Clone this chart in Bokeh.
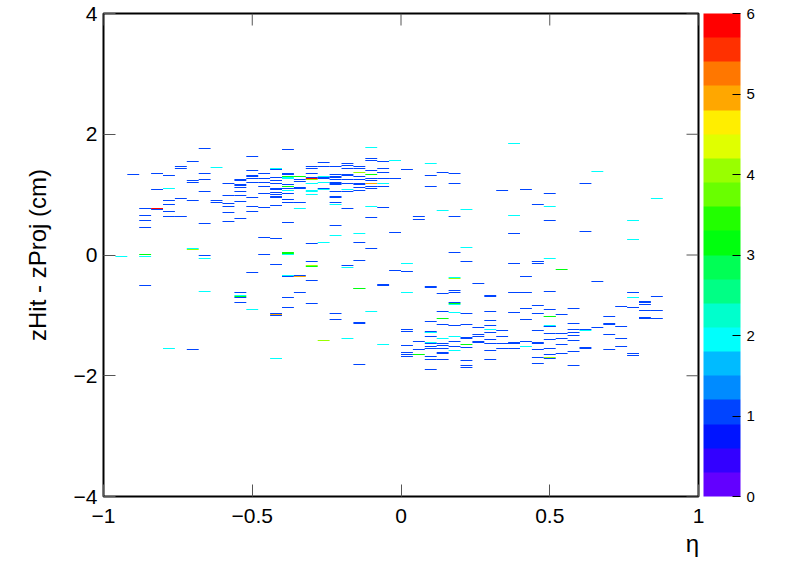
import colorsys
import numpy as np
from bokeh.plotting import figure
from bokeh.models import (ColumnDataSource, LinearColorMapper, ColorBar, FixedTicker, Range1d)
from bokeh.embed import file_html
from bokeh.resources import INLINE

# ---------------- data ----------------
eta_bin_width = 0.04

x_ticks = [-1, -0.5, 0, 0.5, 1]
x_tick_labels = ["\u22121", "\u22120.5", "0", "0.5", "1"]
y_ticks = [-4, -2, 0, 2, 4]
y_tick_labels = ["\u22124", "\u22122", "0", "2", "4"]
cbar_ticks = [0, 1, 2, 3, 4, 5, 6]
cbar_low, cbar_high = 0, 6

cell_eta = [
    -0.94,
    -0.90,
    -0.86, -0.86, -0.86, -0.86, -0.86, -0.86, -0.86,
    -0.82, -0.82, -0.82, -0.82,
    -0.78, -0.78, -0.78, -0.78, -0.78, -0.78, -0.78,
    -0.74, -0.74, -0.74, -0.74,
    -0.70, -0.70, -0.70, -0.70, -0.70, -0.70, -0.70,
    -0.66, -0.66, -0.66, -0.66, -0.66, -0.66, -0.66, -0.66,
    -0.62, -0.62, -0.62,
    -0.58, -0.58, -0.58, -0.58, -0.58, -0.58,
    -0.54, -0.54, -0.54, -0.54, -0.54, -0.54, -0.54, -0.54, -0.54, -0.54, -0.54, -0.54, -0.54, -0.54,
    -0.50, -0.50, -0.50, -0.50, -0.50, -0.50, -0.50, -0.50, -0.50, -0.50, -0.50,
    -0.46, -0.46, -0.46, -0.46, -0.46, -0.46, -0.46, -0.46,
    -0.42, -0.42, -0.42, -0.42, -0.42, -0.42, -0.42, -0.42, -0.42, -0.42, -0.42, -0.42, -0.42, -0.42, -0.42, -0.42, -0.42, -0.42,
    -0.38, -0.38, -0.38, -0.38, -0.38, -0.38, -0.38, -0.38, -0.38, -0.38, -0.38, -0.38, -0.38, -0.38, -0.38, -0.38, -0.38, -0.38, -0.38, -0.38, -0.38,
    -0.34, -0.34, -0.34, -0.34, -0.34, -0.34, -0.34, -0.34, -0.34, -0.34,
    -0.30, -0.30, -0.30, -0.30, -0.30, -0.30, -0.30, -0.30, -0.30, -0.30, -0.30, -0.30, -0.30, -0.30, -0.30, -0.30, -0.30,
    -0.26, -0.26, -0.26, -0.26, -0.26, -0.26, -0.26, -0.26, -0.26, -0.26,
    -0.22, -0.22, -0.22, -0.22, -0.22, -0.22, -0.22, -0.22, -0.22, -0.22, -0.22, -0.22, -0.22, -0.22, -0.22, -0.22, -0.22,
    -0.18, -0.18, -0.18, -0.18, -0.18, -0.18, -0.18, -0.18, -0.18, -0.18, -0.18, -0.18, -0.18,
    -0.14, -0.14, -0.14, -0.14, -0.14, -0.14, -0.14, -0.14, -0.14, -0.14, -0.14, -0.14, -0.14, -0.14, -0.14, -0.14, -0.14,
    -0.10, -0.10, -0.10, -0.10, -0.10, -0.10, -0.10, -0.10, -0.10, -0.10, -0.10, -0.10, -0.10, -0.10,
    -0.06, -0.06, -0.06, -0.06, -0.06, -0.06, -0.06, -0.06, -0.06, -0.06, -0.06,
    -0.02, -0.02, -0.02, -0.02,
    0.02, 0.02, 0.02, 0.02, 0.02, 0.02, 0.02, 0.02, 0.02, 0.02,
    0.06, 0.06, 0.06, 0.06, 0.06,
    0.10, 0.10, 0.10, 0.10, 0.10, 0.10, 0.10, 0.10, 0.10, 0.10, 0.10, 0.10, 0.10, 0.10, 0.10, 0.10, 0.10, 0.10,
    0.14, 0.14, 0.14, 0.14, 0.14, 0.14, 0.14, 0.14, 0.14, 0.14, 0.14, 0.14, 0.14,
    0.18, 0.18, 0.18, 0.18, 0.18, 0.18, 0.18, 0.18, 0.18, 0.18, 0.18, 0.18, 0.18, 0.18, 0.18, 0.18, 0.18, 0.18,
    0.22, 0.22, 0.22, 0.22, 0.22, 0.22, 0.22, 0.22, 0.22, 0.22, 0.22, 0.22,
    0.26, 0.26, 0.26, 0.26, 0.26, 0.26,
    0.30, 0.30, 0.30, 0.30, 0.30, 0.30, 0.30, 0.30, 0.30, 0.30, 0.30,
    0.34, 0.34, 0.34, 0.34, 0.34,
    0.38, 0.38, 0.38, 0.38, 0.38, 0.38, 0.38, 0.38, 0.38, 0.38,
    0.42, 0.42, 0.42, 0.42, 0.42, 0.42, 0.42,
    0.46, 0.46, 0.46, 0.46, 0.46, 0.46, 0.46, 0.46, 0.46, 0.46, 0.46, 0.46,
    0.50, 0.50, 0.50, 0.50, 0.50, 0.50, 0.50, 0.50, 0.50, 0.50, 0.50, 0.50, 0.50, 0.50, 0.50, 0.50, 0.50,
    0.54, 0.54, 0.54, 0.54, 0.54, 0.54,
    0.58, 0.58, 0.58, 0.58, 0.58, 0.58, 0.58, 0.58,
    0.62, 0.62, 0.62, 0.62, 0.62, 0.62,
    0.66, 0.66, 0.66,
    0.70, 0.70, 0.70, 0.70, 0.70,
    0.74, 0.74, 0.74, 0.74,
    0.78, 0.78, 0.78, 0.78, 0.78, 0.78, 0.78,
    0.82, 0.82, 0.82, 0.82, 0.82, 0.82,
    0.86, 0.86, 0.86, 0.86,
]

cell_z = [
    -0.04,
    1.33,
    0.765, 0.649, 0.566, 0.45, -0.005, -0.025, -0.51,
    1.345, 1.08, 0.765, 0.75,
    1.311, 1.096, 0.897, 0.83, 0.715, 0.632, -1.554,
    1.45, 1.43, 0.93, 0.632,
    1.543, 1.22, 1.20, 0.897, 0.097, 0.08, -1.57,
    1.758, 1.345, 1.245, 1.046, 0.516, -0.014, -0.063, -0.61,
    1.444, 0.897, 0.864,
    1.179, 0.98, 0.85, 0.80, 0.70, 0.55,
    1.24, 1.22, 1.16, 1.14, 1.113, 1.05, 0.985, 0.88, 0.60, -0.627, -0.676, -0.693, -0.71, -0.792,
    1.626, 1.394, 1.306, 1.29, 1.256, 1.20, 0.947, 0.80, 0.715, -0.295, -0.908,
    1.345, 1.256, 1.20, 1.13, 1.01, 0.78, 0.284, 0.008,
    1.427, 1.41, 1.278, 1.228, 1.179, 1.10, 1.08, 1.035, 0.996, 0.96, 0.95, 0.815, 0.268, -0.16, -0.974, -0.991, -1.008, -1.72,
    1.742, 1.345, 1.33, 1.295, 1.27, 1.26, 1.162, 1.13, 1.096, 1.063, 1.013, 0.914, 0.864, 0.533, 0.03, 0.02, 0.0, -0.345, -0.36, -0.709, -0.875,
    1.295, 1.245, 1.21, 1.11, 1.10, 0.864, 0.765, -0.345, -0.36, -0.626,
    1.46, 1.427, 1.345, 1.278, 1.261, 1.245, 1.18, 1.17, 1.06, 1.05, 0.996, 0.185, -0.113, -0.18, -0.197, -0.428, -0.809,
    1.527, 1.46, 1.295, 1.27, 1.255, 1.195, 1.096, 1.07, 0.20, -1.42,
    1.46, 1.328, 1.29, 1.27, 1.25, 1.20, 1.18, 1.16, 1.046, 0.96, 0.95, 0.864, 0.83, 0.483, 0.317, -0.974, -1.074,
    1.51, 1.477, 1.427, 1.33, 1.31, 1.245, 1.18, 1.08, 1.046, 0.765, -0.18, -0.212, -1.388,
    1.46, 1.427, 1.361, 1.295, 1.245, 1.18, 1.16, 1.11, 1.063, 0.35, 0.20, -0.097, -0.56, -0.57, -1.13, -1.14, -1.82,
    1.775, 1.593, 1.56, 1.394, 1.328, 1.261, 1.228, 1.18, 1.12, 1.10, 0.798, 0.616, 0.102, -0.941,
    1.543, 1.427, 1.36, 1.35, 1.261, 1.18, 1.13, 0.78, -0.49, -0.51, -1.488,
    1.56, 1.261, 0.367, -0.262,
    1.41, -0.146, -0.279, -0.627, -1.24, -1.273, -1.505, -1.62, -1.654, -1.687,
    0.632, 0.583, -1.438, -1.571, -1.654,
    1.51, 1.311, 1.13, -0.53, -0.54, -1.107, -1.273, -1.29, -1.30, -1.356, -1.455, -1.472, -1.53, -1.55, -1.56, -1.687, -1.737, -1.902,
    1.361, 0.732, -0.643, -0.942, -1.058, -1.157, -1.389, -1.472, -1.505, -1.555, -1.63, -1.645, -1.737,
    1.345, 1.179, 0.632, 0.036, -0.378, -0.40, -0.594, -0.627, -0.793, -0.81, -0.826, -0.958, -1.17, -1.18, -1.356, -1.44, -1.52, -1.588,
    0.748, 0.119, -0.113, -0.975, -1.157, -1.38, -1.395, -1.488, -1.544, -1.753, -1.836, -1.869,
    -0.478, -1.207, -1.33, -1.35, -1.44, -1.45,
    -0.68, -0.70, -0.942, -1.09, -1.174, -1.24, -1.29, -1.405, -1.472, -1.588, -1.737,
    1.063, -1.256, -1.356, -1.472, -1.555,
    1.841, 0.649, 0.35, -0.146, -0.627, -0.958, -1.46, -1.47, -1.48, -1.555,
    1.08, -0.362, -0.627, -0.892, -1.074, -1.438, -1.521,
    0.83, -0.11, -0.12, -0.146, -0.842, -0.975, -1.256, -1.46, -1.48, -1.571, -1.703, -1.803,
    1.013, 0.798, 0.566, -0.064, -0.61, -0.908, -1.02, -1.03, -1.173, -1.19, -1.20, -1.306, -1.405, -1.555, -1.654, -1.703, -1.73,
    -0.246, -0.99, -1.306, -1.389, -1.488, -1.637,
    -0.892, -1.14, -1.24, -1.29, -1.339, -1.422, -1.604, -1.836,
    1.168, 0.384, -1.24, -1.256, -1.545, -1.555,
    1.378, -0.444, -1.206,
    -1.024, -1.15, -1.16, -1.322, -1.571,
    -0.858, -1.19, -1.389, -1.521,
    0.566, 0.252, -0.626, -0.709, -0.875, -1.637, -1.67,
    -0.78, -0.80, -0.825, -0.925, -1.05, -1.065,
    0.93, -0.693, -0.925, -1.057,
]

cell_count = [
    2,
    1,
    1, 1, 1, 1, 3, 2, 1,
    1, 1, 6, 1,
    1, 2, 1, 1, 1, 1, 2,
    1, 1, 1, 1,
    1, 1, 1, 1, 2, 4, 1,
    1, 1, 1, 1, 1, 1, 2, 2,
    2, 1, 1,
    1, 1, 1, 1, 1, 1,
    1, 1, 1, 1, 1, 1, 1, 1, 1, 1, 2, 3, 1, 1,
    1, 1, 1, 1, 1, 1, 1, 1, 1, 1, 2,
    1, 1, 1, 1, 1, 1, 1, 1,
    2, 1, 1, 1, 1, 1, 1, 1, 1, 1, 1, 1, 1, 1, 1, 5, 1, 2,
    1, 1, 1, 3, 2, 2, 1, 3, 1, 2, 1, 1, 1, 1, 3, 3, 2, 2, 1, 1, 1,
    3, 1, 1, 1, 1, 1, 2, 1, 5, 1,
    1, 1, 1, 1, 6, 4, 2, 2, 2, 2, 2, 1, 1, 4, 3, 1, 1,
    1, 1, 2, 1, 1, 2, 1, 2, 2, 4,
    1, 1, 1, 1, 1, 1, 1, 1, 1, 1, 1, 1, 2, 1, 2, 1, 1,
    1, 1, 1, 1, 1, 1, 1, 2, 1, 1, 1, 2, 2,
    1, 1, 4, 1, 1, 1, 1, 1, 1, 2, 1, 1, 3, 3, 1, 1, 1,
    2, 1, 1, 1, 3, 1, 1, 5, 1, 1, 2, 1, 1, 2,
    1, 1, 1, 1, 1, 2, 1, 1, 1, 1, 2,
    2, 1, 1, 1,
    1, 2, 1, 2, 1, 1, 1, 1, 1, 1,
    1, 1, 1, 1, 3,
    2, 1, 1, 1, 1, 1, 1, 2, 2, 1, 2, 1, 1, 1, 1, 1, 1, 1,
    1, 2, 1, 1, 3, 1, 2, 1, 1, 1, 1, 1, 1,
    1, 1, 1, 1, 2, 4, 1, 1, 1, 3, 2, 2, 1, 1, 2, 1, 1, 2,
    2, 2, 1, 1, 1, 1, 1, 3, 1, 1, 1, 1,
    1, 1, 1, 1, 1, 1,
    1, 1, 1, 1, 1, 2, 1, 1, 1, 1, 1,
    1, 1, 1, 1, 1,
    2, 2, 1, 1, 1, 1, 1, 1, 1, 1,
    1, 1, 1, 1, 1, 1, 2,
    1, 1, 1, 1, 1, 1, 1, 1, 1, 1, 1, 1,
    1, 2, 1, 2, 1, 1, 3, 3, 2, 1, 1, 1, 1, 1, 1, 4, 1,
    3, 1, 1, 1, 1, 1,
    1, 1, 1, 1, 1, 1, 1, 1,
    1, 1, 1, 2, 1, 1,
    2, 1, 1,
    1, 1, 1, 1, 1,
    1, 1, 1, 1,
    2, 2, 1, 2, 1, 1, 1,
    1, 1, 1, 1, 1, 1,
    2, 1, 1, 1,
]

# ---------------- palette (ROOT "pretty" spectrum, 20 contours) ----------------
def root_palette(ncont=20, ncolors=50):
    cols = []
    for k in range(ncont):
        j = int((k + 0.99) * ncolors / ncont)
        if j >= ncolors - 1:
            cols.append("#ff0000")
            continue
        hue = 280.0 - (j + 1) * (280.0 / ncolors)
        r, g, b = colorsys.hls_to_rgb(hue / 360.0, 0.5, 1.0)
        cols.append("#%02x%02x%02x" % (int(round(r * 255)), int(round(g * 255)), int(round(b * 255))))
    return cols

palette = root_palette()

FONT = "Liberation Sans"
W, H = 788, 565
BL, BR, BT, BB = 103, 90, 13, 69
frame_w, frame_h = W - BL - BR, H - BT - BB

x0, x1 = x_ticks[0], x_ticks[-1]
y0, y1 = y_ticks[0], y_ticks[-1]

# y binning: one bin per screen pixel row of the frame (histogram resolution),
# bins centred on pixel rows so that each cell is drawn crisply
z_bin_height = (y1 - y0) / frame_h

n = min(len(cell_eta), len(cell_z), len(cell_count))
eta_arr = np.array(cell_eta[:n], dtype=float)
z_arr = np.array(cell_z[:n], dtype=float)
cnt_arr = np.array(cell_count[:n], dtype=float)
iy = np.floor((z_arr - y0) / z_bin_height)
z_lo = y0 + (iy + 0.5) * z_bin_height

src = ColumnDataSource(dict(
    left=eta_arr - eta_bin_width / 2, right=eta_arr + eta_bin_width / 2,
    bottom=z_lo, top=z_lo + z_bin_height,
    count=cnt_arr,
))

mapper = LinearColorMapper(palette=palette, low=cbar_low, high=cbar_high)

p = figure(width=W, height=H, x_range=Range1d(x0, x1), y_range=Range1d(y0, y1),
           output_backend="svg", toolbar_location=None,
           min_border_left=BL, min_border_right=BR, min_border_top=BT, min_border_bottom=BB)
p.xgrid.visible = False
p.ygrid.visible = False
p.background_fill_color = "white"
p.border_fill_color = "white"
p.outline_line_color = "black"
p.outline_line_width = 2

p.quad(left="left", right="right", bottom="bottom", top="top", source=src,
       fill_color={"field": "count", "transform": mapper}, line_color=None)

MAJ = 12

for ax in (p.xaxis[0], p.yaxis[0]):
    ax.axis_line_color = None
    ax.major_tick_in = MAJ
    ax.major_tick_out = 0
    ax.minor_tick_line_color = None
    ax.major_tick_line_color = "#555555"
    ax.major_label_text_font = FONT
    ax.major_label_text_font_size = "21px"
    ax.major_label_text_color = "black"

p.xaxis.ticker = FixedTicker(ticks=x_ticks)
p.yaxis.ticker = FixedTicker(ticks=y_ticks)
p.xaxis.major_label_overrides = {t: l for t, l in zip(x_ticks, x_tick_labels)}
p.yaxis.major_label_overrides = {t: l for t, l in zip(y_ticks, y_tick_labels)}
p.xaxis.major_label_standoff = 12
p.yaxis.major_label_standoff = 6

p.yaxis.axis_label = "zHit - zProj (cm)"
p.yaxis.axis_label_text_font = FONT
p.yaxis.axis_label_text_font_size = "24px"
p.yaxis.axis_label_text_font_style = "normal"
p.yaxis.axis_label_text_color = "black"
p.yaxis.axis_label_standoff = 20

xax = p.xaxis[0]
xax.axis_label = "\u03b7\u2002"
xax.axis_label_align = "end"
xax.axis_label_text_font = FONT
xax.axis_label_text_font_size = "24px"
xax.axis_label_text_font_style = "normal"
xax.axis_label_text_color = "black"
xax.axis_label_standoff = 4

# ticks on the opposite (top / right) frame edges
ppy = frame_h / (y1 - y0)
ppx = frame_w / (x1 - x0)
top_x = np.array(x_ticks, dtype=float)
p.segment(x0=top_x, y0=np.full(len(top_x), y1), x1=top_x, y1=np.full(len(top_x), y1 - MAJ / ppy),
          line_color="#555555", line_width=1)
right_y = np.array(y_ticks, dtype=float)
p.segment(x0=np.full(len(right_y), x1), y0=right_y, x1=np.full(len(right_y), x1 - MAJ / ppx), y1=right_y,
          line_color="#555555", line_width=1)

cbar = ColorBar(color_mapper=mapper, ticker=FixedTicker(ticks=cbar_ticks),
                width=37, height="auto", padding=0, margin=0, location=(5, 0),
                major_label_text_font=FONT, major_label_text_font_size="15px",
                major_label_text_color="black",
                major_tick_line_color="black", major_tick_in=8, major_tick_out=0,
                minor_tick_line_color=None, bar_line_color=None,
                label_standoff=6, background_fill_color=None, border_line_color=None)
p.add_layout(cbar, "right")

open("out.html", "w").write(file_html(p, INLINE))
